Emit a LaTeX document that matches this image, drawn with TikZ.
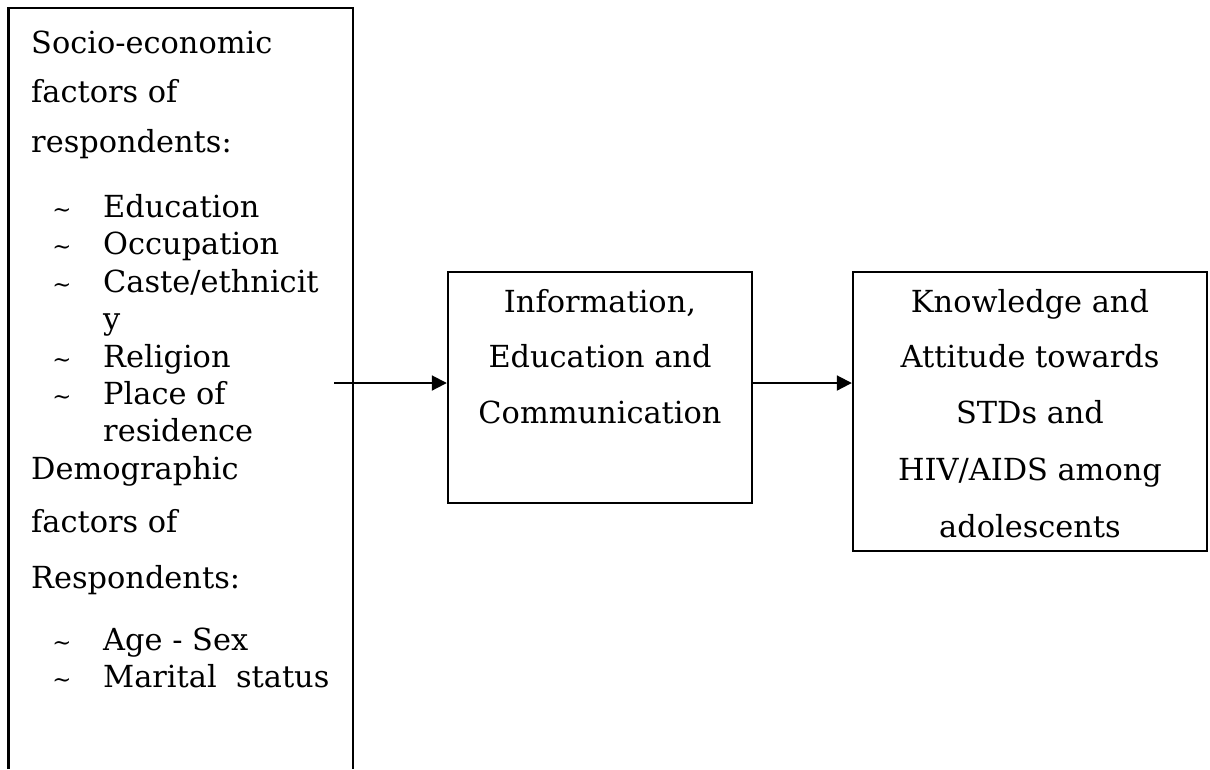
\documentclass[tikz,border=0pt]{standalone}
\usepackage{fontspec}
\setmainfont{DejaVu Serif}
\usepackage{tikz}
\usetikzlibrary{positioning,arrows.meta}

\newcommand{\txtsize}{\fontsize{17.3}{20}\selectfont}
\newcommand{\bul}{{\fontsize{13}{15}\selectfont\textasciitilde}}

\begin{document}
\begin{tikzpicture} [x=0.02cm, y=-0.02cm, line width=1.4pt,
                    every node/.style={font=\txtsize, inner sep=0pt},
                    kast/.style={draw, rectangle},
                    rivi/.style={anchor=base west},
                    keski/.style={anchor=base},
                    nuoli/.style={-{Triangle[length=0.3cm, width=0.3cm]}, line width=1.1pt}]

\useasboundingbox (0,0) rectangle (1210,769);

% left box, open at the bottom
\draw (8.5,769) -- (8.5,8) -- (353,8) -- (353,769);

\node[rivi] (s1) at (30,53) {Socio-economic};
\node[rivi] (s2) at (30,102) {factors of};
\node[rivi] (s3) at (30,152) {respondents:};
\node[keski] (b1) at (62,217) {\bul};
\node[rivi] (e1) at (102,217) {Education};
\node[keski] (b2) at (62,254) {\bul};
\node[rivi] (e2) at (102,254) {Occupation};
\node[keski] (b3) at (62,292) {\bul};
\node[rivi] (e3) at (102,292) {Caste/ethnicit};
\node[rivi] (e3b) at (102,329) {y};
\node[keski] (b4) at (62,367) {\bul};
\node[rivi] (e4) at (102,367) {Religion};
\node[keski] (b5) at (62,404) {\bul};
\node[rivi] (e5) at (102,404) {Place of};
\node[rivi] (e5b) at (102,441) {residence};
\node[rivi] (d1) at (30,479) {Demographic};
\node[rivi] (d2) at (30,532) {factors of};
\node[rivi] (d3) at (30,588) {Respondents:};
\node[keski] (b6) at (62,650) {\bul};
\node[rivi] (a1) at (102,650) {Age - Sex};
\node[keski] (b7) at (62,687) {\bul};
\node[rivi] (a2) at (102,687) {Marital\ \ status};

% middle and right boxes
\node[kast, minimum width=6.08cm, minimum height=4.62cm] (iec) at (600,387.5) {};
\node[keski] (i1) at (600,312) {Information,};
\node[keski] (i2) at (600,367) {Education and};
\node[keski] (i3) at (600,423) {Communication};

\node[kast, minimum width=7.08cm, minimum height=5.58cm] (kab) at (1030,411.5) {};
\node[keski] (k1) at (1030,312) {Knowledge and};
\node[keski] (k2) at (1030,367) {Attitude towards};
\node[keski] (k3) at (1030,423) {STDs and};
\node[keski] (k4) at (1030,480) {HIV/AIDS among};
\node[keski] (k5) at (1030,537) {adolescents};

\coordinate (src) at (334,383);
\draw[nuoli] (src) -- (src -| iec.west);
\draw[nuoli] (iec.east |- src) -- (src -| kab.west);
\end{tikzpicture}
\end{document}
